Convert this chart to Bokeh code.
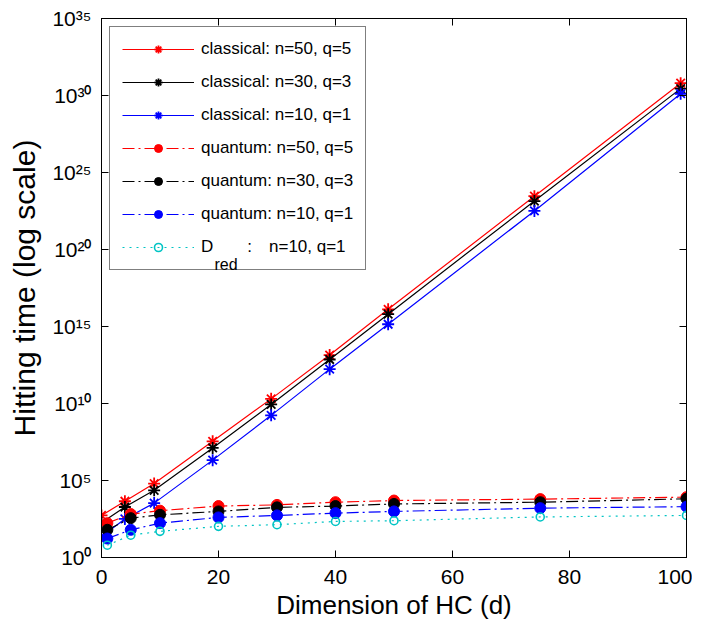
from bokeh.plotting import figure
from bokeh.models import (FixedTicker, LinearAxis, LogAxis, Legend, LegendItem,
                          CustomJSTickFormatter, Label, Range1d)
from bokeh.embed import file_html
from bokeh.resources import INLINE

# ---------------- data ----------------
d_classical = [0, 4, 9, 19, 29, 39, 49, 74, 99]
classical_n50_q5 = [5.4e2, 4.5e3, 6.3e4, 3.5e7, 2.0e10, 1.4e13, 1.3e16, 2.9e23, 6.3e30]
classical_n30_q3 = [1.8e2, 1.9e3, 2.3e4, 1.3e7, 8.7e9, 7.2e12, 6.3e15, 1.4e23, 2.8e30]
classical_n10_q1 = [2.3e1, 3.2e2, 3.4e3, 2.1e6, 1.7e9, 1.7e12, 1.4e15, 3.2e22, 1.3e30]

d_quantum = [1, 5, 10, 20, 30, 40, 50, 75, 100]
quantum_n50_q5 = [1.7e2, 6.6e2, 1.1e3, 2.2e3, 2.6e3, 3.9e3, 5.0e3, 6.2e3, 8.3e3]
quantum_n30_q3 = [6.3e1, 3.6e2, 5.9e2, 9.8e2, 1.8e3, 2.2e3, 3.0e3, 3.9e3, 6.5e3]
quantum_n10_q1 = [1.7e1, 6.3e1, 1.7e2, 4.0e2, 5.4e2, 7.6e2, 9.8e2, 1.6e3, 2.0e3]
dred_n10_q1 = [6.3, 2.8e1, 5.0e1, 1.05e2, 1.35e2, 2.2e2, 2.45e2, 4.3e2, 5.4e2]

x_ticks = [0, 20, 40, 60, 80, 100]
y_ticks = [1e0, 1e5, 1e10, 1e15, 1e20, 1e25, 1e30, 1e35]

legend_labels = [
    "classical: n=50, q=5",
    "classical: n=30, q=3",
    "classical: n=10, q=1",
    "quantum: n=50, q=5",
    "quantum: n=30, q=3",
    "quantum: n=10, q=1",
    "D\u2003\u2003:\u2002\u2002n=10, q=1",
]

FONT = "Liberation Sans"

# ---------------- figure ----------------
p = figure(frame_width=585, frame_height=539,
           x_range=Range1d(0, 100), y_range=Range1d(1, 1e35),
           y_axis_type="log",
           output_backend="svg", toolbar_location=None,
           min_border_left=101, min_border_right=6,
           min_border_top=18, min_border_bottom=10)
p.grid.visible = False
p.outline_line_color = "black"
p.outline_line_width = 1
p.background_fill_color = "white"
p.border_fill_color = "white"

sup_code = """
const sup = {'0':'\u2070','1':'\u00b9','2':'\u00b2','3':'\u00b3','4':'\u2074',
             '5':'\u2075','6':'\u2076','7':'\u2077','8':'\u2078','9':'\u2079'};
const e = Math.round(Math.log10(tick));
return '10' + String(e).split('').map(c => sup[c]).join('');
"""

xax = p.xaxis[0]
xax.ticker = FixedTicker(ticks=x_ticks)
yax = p.yaxis[0]
yax.ticker = FixedTicker(ticks=y_ticks)
yax.formatter = CustomJSTickFormatter(code=sup_code)

for ax in (xax, yax):
    ax.major_tick_in = 7
    ax.major_tick_out = 0
    ax.minor_tick_line_color = None
    ax.axis_line_color = "black"
    ax.major_tick_line_color = "black"
    ax.major_label_text_font = FONT
    ax.major_label_text_font_size = "21px"
    ax.major_label_text_color = "black"
    ax.axis_label_text_font = FONT
    ax.axis_label_text_font_style = "normal"
    ax.axis_label_text_color = "black"

xax.axis_label = "Dimension of HC (d)"
xax.axis_label_text_font_size = "26px"
xax.major_label_standoff = 12
xax.axis_label_standoff = 3
yax.axis_label = "Hitting time (log scale)"
yax.axis_label_text_font_size = "30px"
yax.major_label_standoff = 10
yax.axis_label_standoff = 8

top = LinearAxis(ticker=FixedTicker(ticks=x_ticks),
                 formatter=CustomJSTickFormatter(code="return ' ';"))
right = LogAxis(ticker=FixedTicker(ticks=y_ticks),
                formatter=CustomJSTickFormatter(code="return ' ';"))
for ax in (top, right):
    ax.major_tick_in = 7
    ax.major_tick_out = 0
    ax.minor_tick_line_color = None
    ax.axis_line_color = "black"
    ax.major_label_text_font_size = "2px"
    ax.major_label_standoff = 0
p.add_layout(top, "above")
p.add_layout(right, "right")

# ---------------- series ----------------
items = []
series = [
    (d_classical, classical_n50_q5, "red", "solid", "asterisk"),
    (d_classical, classical_n30_q3, "black", "solid", "asterisk"),
    (d_classical, classical_n10_q1, "blue", "solid", "asterisk"),
    (d_quantum, quantum_n50_q5, "red", "12 4 2 4", "dot"),
    (d_quantum, quantum_n30_q3, "black", "12 4 2 4", "dot"),
    (d_quantum, quantum_n10_q1, "blue", "12 4 2 4", "dot"),
    (d_quantum, dred_n10_q1, "#00c4c4", "2 5", "open"),
]
for (xs, ys, color, dash, mk), label in zip(series, legend_labels):
    ln = p.line(xs, ys, line_color=color, line_width=1.2, line_dash=dash)
    if mk == "asterisk":
        sc = p.scatter(xs, ys, marker="asterisk", size=12, line_color=color, line_width=1.8)
    elif mk == "dot":
        sc = p.scatter(xs, ys, marker="circle", size=11, line_color=color, fill_color=color)
    else:
        sc = p.scatter(xs, ys, marker="circle", size=8, line_color=color,
                       fill_color=None, line_width=1.6)
    items.append(LegendItem(label=label, renderers=[ln, sc]))

legend = Legend(items=items, location="top_left", margin=8, padding=12, spacing=13,
                glyph_width=72, glyph_height=20, label_height=20, label_standoff=7,
                label_text_font=FONT, label_text_font_size="17px",
                label_text_color="black",
                border_line_color="black", border_line_width=1,
                background_fill_alpha=0)
p.add_layout(legend)

sub = Label(x=113, y=293, x_units="screen", y_units="screen", text="red",
            text_font=FONT, text_font_size="16px", text_color="black",
            text_baseline="alphabetic", level="overlay")
p.add_layout(sub)

open("out.html", "w").write(file_html(p, INLINE))
